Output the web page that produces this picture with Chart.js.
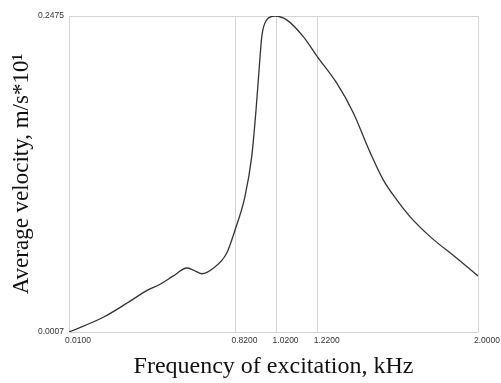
<!DOCTYPE html>
<html>
<head>
<meta charset="utf-8">
<script src="https://cdn.jsdelivr.net/npm/chart.js@4.4.0/dist/chart.umd.min.js"></script>
<style>
  html, body { margin: 0; padding: 0; background: #fff; }
  #wrap { width: 501px; height: 383px; }
</style>
</head>
<body>
<div id="wrap"><canvas id="velChart" width="501" height="383"></canvas></div>
<script>
// frequency, kHz
const freq = [0.010, 0.177, 0.291, 0.388, 0.453, 0.518, 0.583, 0.615, 0.656, 0.712,
  0.777, 0.818, 0.866, 0.899, 0.920, 0.936, 0.948, 0.972, 1.012, 1.069,
  1.150, 1.218, 1.313, 1.393, 1.475, 1.539, 1.605, 1.669, 1.767,
  1.897, 2.000];
// average velocity, m/s*10^1
const velocity = [0.0007, 0.0122, 0.0231, 0.0330, 0.0380, 0.0445, 0.0507, 0.0491, 0.0462, 0.0505,
  0.0622, 0.0804, 0.1064, 0.1377, 0.1741, 0.2080, 0.2314, 0.2445, 0.2475, 0.2445,
  0.2314, 0.2158, 0.1950, 0.1720, 0.1410, 0.1195, 0.1038, 0.0908, 0.0752,
  0.0583, 0.0445];

const xTicks = [0.01, 0.82, 1.02, 1.22, 2.0];
const yTicks = [0.0007, 0.2475];

const points = freq.map((f, i) => ({ x: f, y: velocity[i] }));

new Chart(document.getElementById("velChart"), {
    type: "scatter",
    data: {
        datasets: [{
            data: points,
            showLine: true,
            borderColor: "#333",
            borderWidth: 1.3,
            pointRadius: 0,
            cubicInterpolationMode: "monotone"
        }]
    },
    options: {
        responsive: false,
        animation: false,
        layout: { padding: { top: 16, right: 23, left: 0, bottom: 0 } },
        plugins: { legend: { display: false }, tooltip: { enabled: false } },
        scales: {
            x: {
                type: "linear",
                min: xTicks[0],
                max: xTicks[xTicks.length - 1],
                afterBuildTicks: s => { s.ticks = xTicks.map(v => ({ value: v })); },
                afterFit: s => { s.height = 51; s.paddingLeft = 0; s.paddingRight = 0; },
                grid: { color: "#d4d4d4", drawTicks: false },
                border: { display: false },
                ticks: {
                    labelOffset: 9,
                    padding: 4,
                    color: "#333",
                    font: { family: "Liberation Sans", size: 8.5 },
                    callback: v => Number(v).toFixed(4)
                },
                title: {
                    display: true,
                    text: "Frequency of excitation, kHz",
                    color: "#111",
                    font: { family: "Liberation Serif", size: 24 },
                    padding: { top: 0, bottom: 2 }
                }
            },
            y: {
                type: "linear",
                min: yTicks[0],
                max: yTicks[yTicks.length - 1],
                afterBuildTicks: s => { s.ticks = yTicks.map(v => ({ value: v })); },
                afterFit: s => { s.width = 69; },
                grid: { color: "#d4d4d4", drawTicks: false },
                border: { display: false },
                ticks: {
                    padding: 5,
                    color: "#333",
                    font: { family: "Liberation Sans", size: 8.5 },
                    callback: v => Number(v).toFixed(4)
                },
                title: {
                    display: true,
                    text: "Average velocity, m/s*10\u00B9",
                    color: "#111",
                    font: { family: "Liberation Serif", size: 23 },
                    padding: { top: 8, bottom: 0 }
                }
            }
        }
    }
});
</script>
</body>
</html>
